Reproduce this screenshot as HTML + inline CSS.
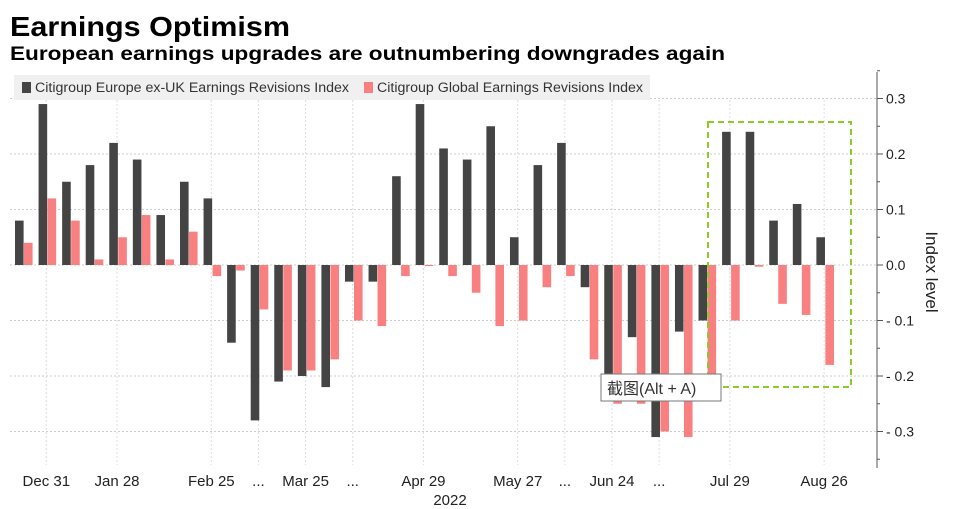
<!DOCTYPE html>
<html><head><meta charset="utf-8"><style>
body{margin:0;background:#fff;font-family:"Liberation Sans","Noto Sans CJK SC",sans-serif;}
#wrap{position:relative;width:953px;height:509px;overflow:hidden;}
</style></head><body>
<div id="wrap">
<svg id="chart" width="953" height="509" xmlns="http://www.w3.org/2000/svg">
<text x="10" y="36" font-size="28" font-weight="bold" fill="#000" textLength="280" lengthAdjust="spacingAndGlyphs" font-family="Liberation Sans, sans-serif">Earnings Optimism</text>
<text x="10" y="60" font-size="19" font-weight="bold" fill="#000" textLength="715" lengthAdjust="spacingAndGlyphs" font-family="Liberation Sans, sans-serif">European earnings upgrades are outnumbering downgrades again</text>
<g id="grid"></g>
<rect x="14" y="75" width="636" height="25" fill="#f0f0f0"/>
<g><rect x="22" y="82" width="9" height="11" fill="#444"/><text x="35" y="92" font-size="13.5" fill="#333" textLength="314" lengthAdjust="spacingAndGlyphs">Citigroup Europe ex-UK Earnings Revisions Index</text></g>
<g><rect x="364" y="82" width="9" height="11" fill="#f98080"/><text x="377" y="92" font-size="13.5" fill="#333" textLength="266" lengthAdjust="spacingAndGlyphs">Citigroup Global Earnings Revisions Index</text></g>
<g id="bars"></g>
<g id="axis"></g>
<rect x="708" y="122" width="143" height="265" fill="none" stroke="#8ccc2a" stroke-width="2" stroke-dasharray="6,4"/>
<rect x="601" y="374" width="120" height="27" fill="#fff" stroke="#777"/>
<text x="607" y="394" font-size="16" fill="#333" font-family="Liberation Sans, Noto Sans CJK SC, sans-serif">截图(Alt + A)</text>
<text transform="translate(926,272) rotate(90)" text-anchor="middle" font-size="17" fill="#222">Index level</text>
</svg>
<script>
const europe=[0.08,0.29,0.15,0.18,0.22,0.19,0.09,0.15,0.12,-0.14,-0.28,-0.21,-0.20,-0.22,-0.03,-0.03,0.16,0.29,0.21,0.19,0.25,0.05,0.18,0.22,-0.04,-0.22,-0.13,-0.31,-0.12,-0.10,0.24,0.24,0.08,0.11,0.05];
const global=[0.04,0.12,0.08,0.01,0.05,0.09,0.01,0.06,-0.02,-0.01,-0.08,-0.19,-0.19,-0.17,-0.10,-0.11,-0.02,0,-0.02,-0.05,-0.11,-0.10,-0.04,-0.02,-0.17,-0.25,-0.25,-0.30,-0.31,-0.22,-0.10,-0.003,-0.07,-0.09,-0.18];
const yTicks=[0.3,0.2,0.1,0,-0.1,-0.2,-0.3];
const yTickLabels=["0.3","0.2","0.1","0.0","-0.1","-0.2","-0.3"];
const xLabels=["Dec 31","Jan 28","Feb 25","...","Mar 25","...","Apr 29","May 27","...","Jun 24","...","Jul 29","Aug 26"];
const xLabelIdx=[1,4,8,10,12,14,17,21,23,25,27,30,34];
const NS="http://www.w3.org/2000/svg";
const y=v=>265-v*555;
const xs=i=>15+i*23.57;
const bw=8.6;
function mk(t,a,p){const e=document.createElementNS(NS,t);for(const k in a)e.setAttribute(k,a[k]);p.appendChild(e);return e;}
const grid=document.getElementById('grid'),bars=document.getElementById('bars'),axis=document.getElementById('axis');
yTicks.forEach((v,i)=>{
 const l=mk('line',{x1:10,x2:877,y1:y(v),y2:y(v),stroke:'#ccc','stroke-dasharray':'2,2'},grid);
 
 
 const tk=mk('line',{x1:877,x2:883,y1:y(v),y2:y(v),stroke:'#555'},axis);
 
 
 const t=mk('text',{x:886,y:y(v)+5,'font-size':14,fill:'#222'},axis);
 t.textContent=(v<0?'- ':'')+yTickLabels[i].replace('-','');
 
 
});
for(let v=-0.35;v<=0.35;v+=0.05){const m=mk('line',{x1:877,x2:880,y1:y(v),y2:y(v),stroke:'#555'},axis);
 
 }
const ax=mk('line',{x1:877,x2:877,y1:72,y2:468,stroke:'#555'},axis);


xLabelIdx.forEach((idx,i)=>{
 const cx=xs(idx)+bw*0.9;
 const g=mk('line',{x1:cx,x2:cx,y1:100,y2:465,stroke:'#ddd','stroke-dasharray':'2,2'},grid);
 
 
 const t=mk('text',{x:cx,y:486,'font-size':15,fill:'#222','text-anchor':'middle'},axis);
 t.textContent=xLabels[i];
 
 
});
const yr=mk('text',{x:450,y:505,'font-size':15,fill:'#222','text-anchor':'middle'},axis);
yr.textContent='2022';


europe.forEach((v,i)=>{
 const r=mk('rect',{x:xs(i),y:Math.min(y(v),y(0)),width:bw,height:Math.abs(y(v)-y(0)),fill:'#444'},bars);
 
 
});
global.forEach((v,i)=>{
 const r=mk('rect',{x:xs(i)+bw+0.4,y:Math.min(y(v),y(0)),width:bw,height:Math.max(1,Math.abs(y(v)-y(0))),fill:'#f98080'},bars);
 
 
});
</script>
</div>
</body></html>
